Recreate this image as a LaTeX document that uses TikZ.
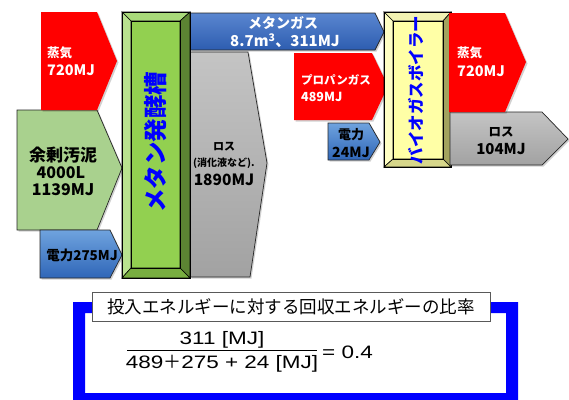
\documentclass[tikz,border=0pt]{standalone}
\usepackage{fontspec}
\setmainfont{Liberation Sans}
\newfontfamily\jp{Noto Sans CJK JP}
\newfontfamily\formfont{Liberation Sans}[FakeStretch=1.25]
\definecolor{redc}{HTML}{FF0000}
\definecolor{sludge}{HTML}{A9D18E}
\definecolor{blueT}{HTML}{6FA3DE}
\definecolor{blueB}{HTML}{2F66B8}
\definecolor{mblueT}{HTML}{5A86D0}
\definecolor{mblueB}{HTML}{2D5DB0}
\definecolor{grayT}{HTML}{C4C4C4}
\definecolor{grayB}{HTML}{A2A2A2}
\definecolor{tface}{HTML}{92D050}
\definecolor{tleft}{HTML}{B9E28F}
\definecolor{ttop}{HTML}{A9DA7A}
\definecolor{tright}{HTML}{5C8433}
\definecolor{tbot}{HTML}{78AE40}
\definecolor{bface}{HTML}{FFFFA6}
\definecolor{bleft}{HTML}{FFFFC4}
\definecolor{btop}{HTML}{F2F2B2}
\definecolor{bright}{HTML}{A3A35E}
\definecolor{bbot}{HTML}{D6D68A}
\definecolor{frameblue}{HTML}{0000FF}
\newcommand{\fs}[1]{\fontsize{#1}{#1}\selectfont}
\begin{document}
\begin{tikzpicture}[x=1pt,y=-1pt,
  outl/.style={draw=black!85, line width=0.7pt},
  shadow/.style={preaction={fill=black,opacity=0.18,transform canvas={xshift=1.5pt,yshift=-1.5pt}}},
  wtxt/.style={text=white, font=\jp\bfseries, inner sep=0pt, anchor=west},
  btxt/.style={text=black, font=\jp\bfseries, inner sep=0pt},
  vtxt/.style={text=frameblue, inner sep=0pt, rotate=90},
  bev/.style={draw=black, line width=0.6pt}]
\useasboundingbox (0,0) rectangle (569,399);

% ---- left inputs ----
\draw[outl, fill=sludge, shadow] (17,110) -- (97,110) -- (122,168) -- (97,230) -- (17,230) -- cycle;
\node[btxt] (sludge1) at (63,155) {\fs{17}余剰汚泥};
\node[btxt] (sludge2) at (61,173) {\fs{16}4000L};
\node[btxt] (sludge3) at (63,190) {\fs{16}1139MJ};

\fill[redc, shadow] (41,12) -- (97,12) -- (117,61) -- (97,110) -- (41,110) -- cycle;
\node[wtxt] (steamL1) at (47,53) {\fs{12.5}蒸気};
\node[wtxt] (steamL2) at (47,70) {\fs{14.5}720MJ};

\shadedraw[outl, top color=blueT, bottom color=blueB, shadow] (40,230) -- (110,230) -- (122,255) -- (110,278) -- (40,278) -- cycle;
\node[btxt] (elecA) at (82,255) {\fs{13.5}電力275MJ};

% ---- gray loss ----
\shadedraw[outl, top color=grayT, bottom color=grayB, shadow] (190,52) -- (248,52) -- (267,163) -- (250,277) -- (190,277) -- cycle;
\node[btxt] (lossA1) at (224,147) {\fs{11}ロス};
\node[btxt] (lossA2) at (224,163) {\fs{10}(消化液など).};
\node[btxt] (lossA3) at (224,180) {\fs{15.5}1890MJ};

% ---- methane gas ----
\shadedraw[outl, top color=mblueT, bottom color=mblueB, shadow] (190,13) -- (375,13) -- (384,32) -- (375,50) -- (190,50) -- cycle;
\node[btxt, text=white] (meth1) at (283,23) {\fs{14}メタンガス};
\node[btxt, text=white] (meth2) at (285,41) {\fs{15}8.7m\textsuperscript{3}、311MJ};

% ---- tank ----
\fill[tface] (131,21) rectangle (180,268);
\filldraw[bev, fill=ttop] (122,12) -- (190,12) -- (180,21) -- (131,21) -- cycle;
\filldraw[bev, fill=tleft] (122,12) -- (131,21) -- (131,268) -- (122,278) -- cycle;
\filldraw[bev, fill=tright] (190,12) -- (190,278) -- (180,268) -- (180,21) -- cycle;
\filldraw[bev, fill=tbot] (122,278) -- (131,268) -- (180,268) -- (190,278) -- cycle;
\draw[bev] (122,12) rectangle (190,278);
\draw[bev] (131,21) rectangle (180,268);
\node[vtxt, font=\jp\bfseries\fs{23.5}] (tankT) at (156,142) {メタン発酵槽};

% ---- propane ----
\fill[redc, shadow] (294,53) -- (372,53) -- (388,86) -- (372,120) -- (294,120) -- cycle;
\node[wtxt] (prop1) at (301,80) {\fs{11.5}プロパンガス};
\node[wtxt] (prop2) at (301,97) {\fs{12.5}489MJ};

% ---- electricity 24 ----
\shadedraw[outl, top color=blueT, bottom color=blueB, shadow] (328,123) -- (369,123) -- (380,142) -- (369,160) -- (328,160) -- cycle;
\node[btxt] (elecB1) at (351,135) {\fs{13}電力};
\node[btxt] (elecB2) at (351,152) {\fs{14}24MJ};

% ---- boiler ----
\fill[bface] (393,21) rectangle (443,159);
\filldraw[bev, fill=btop] (384,12) -- (451,12) -- (443,21) -- (393,21) -- cycle;
\filldraw[bev, fill=bleft] (384,12) -- (393,21) -- (393,159) -- (384,167) -- cycle;
\filldraw[bev, fill=bright] (451,12) -- (451,167) -- (443,159) -- (443,21) -- cycle;
\filldraw[bev, fill=bbot] (384,167) -- (393,159) -- (443,159) -- (451,167) -- cycle;
\draw[bev] (384,12) rectangle (451,167);
\draw[bev] (393,21) rectangle (443,159);
\node[vtxt, font=\jp\bfseries\fs{16.5}] (boilT) at (416,90) {バイオガスボイラー};

% ---- outputs right ----
\shadedraw[outl, top color=grayT, bottom color=grayB, shadow] (450,112) -- (542,112) -- (568,139) -- (542,165) -- (450,165) -- cycle;
\node[btxt] (lossB1) at (501,132) {\fs{12.5}ロス};
\node[btxt] (lossB2) at (501,149) {\fs{15}104MJ};

\fill[redc, shadow] (449,13) -- (505,13) -- (526,62) -- (505,112) -- (449,112) -- cycle;
\node[wtxt] (steamR1) at (457,53) {\fs{12.5}蒸気};
\node[wtxt] (steamR2) at (457,71) {\fs{14.5}720MJ};

% ---- ratio box ----
\fill[frameblue, even odd rule] (73,302) rectangle (518,402) (85,313) rectangle (506,393);
\node[draw=black!65, line width=0.6pt, fill=white, minimum width=398pt, minimum height=29pt, inner sep=0pt,
      font=\jp\fs{17.5}] (title) at (291,306.5) {投入エネルギーに対する回収エネルギーの比率};
\node[font=\formfont\fs{18}, inner sep=0pt] (num) at (222,340) {311 [MJ]};
\node[font=\formfont\fs{18}, inner sep=0pt] (den) at (222,364) {489{\jp ＋}275 + 24 [MJ]};
\coordinate (barL) at (127,350);
\coordinate (barR) at (317,350);
\draw[line width=0.8pt] (barL) -- (barR);
\node[font=\formfont\fs{18}, inner sep=0pt, anchor=west] (res) at (322,352) {= 0.4};
\end{tikzpicture}
\end{document}
